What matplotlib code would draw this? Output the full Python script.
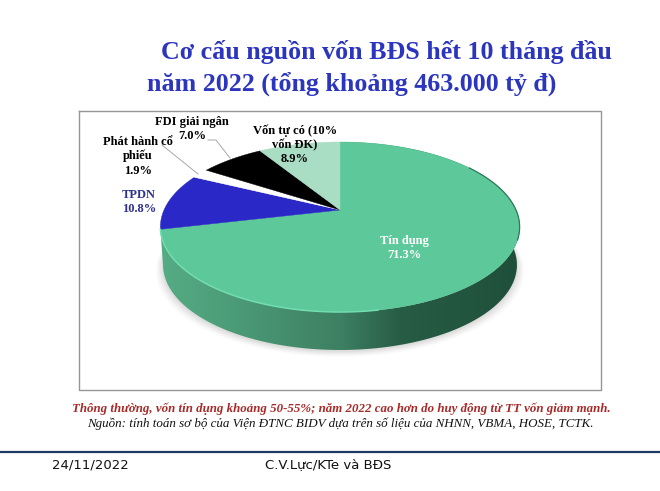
import numpy as np
import matplotlib
matplotlib.use("Agg")
import matplotlib.pyplot as plt
from matplotlib.colors import to_rgb
from matplotlib.patches import Polygon

# -------------------------------------------------
# Data
# -------------------------------------------------
categories = ["Tín dụng", "TPDN", "Phát hành cổ phiếu", "FDI giải ngân", "Vốn tự có (10% vốn ĐK)"]
shares = [71.3, 10.8, 1.9, 7.0, 8.9]
colors = ["#5DC899", "#2A28C6", "#FFFFFF", "#000000", "#A9DDC4"]

title_lines = ["Cơ cấu nguồn vốn BĐS hết 10 tháng đầu", "năm 2022 (tổng khoảng 463.000 tỷ đ)"]
note_red = "Thông thường, vốn tín dụng khoảng 50-55%; năm 2022 cao hơn do huy động từ TT vốn giảm mạnh."
note_src = "Nguồn: tính toán sơ bộ của Viện ĐTNC BIDV dựa trên số liệu của NHNN, VBMA, HOSE, TCTK."
footer_date = "24/11/2022"
footer_author = "C.V.Lực/KTe và BĐS"

# Pie geometry in pixels (perspective view of a disc)
cx, cy = 340, 210
rx, ry = 176, 81.6
persp = 0.2
depth = 38
base_scale = 0.985


def project(theta):
    # theta is clockwise from the top of the disc
    u, v = np.sin(theta), np.cos(theta)
    w = 1 + persp * v
    return cx + rx * u / w, cy - ry * v / w


fig = plt.figure(figsize=(6.6, 4.91), dpi=100)
ax = fig.add_axes([0, 0, 1, 1])
ax.set_xlim(0, 660)
ax.set_ylim(491, 0)
ax.axis("off")

# Frame
ax.plot([79, 601, 601, 79, 79], [111, 111, 390, 390, 111], color="#969696", lw=1.0)

# Soft shadow under the pie
all_t = np.linspace(0, 2 * np.pi, 361)
px, py = project(all_t)
for grow, alpha in zip([7, 5.5, 4, 2.5, 1], [0.03, 0.04, 0.05, 0.06, 0.08]):
    ax.fill(cx + (px - cx) * (base_scale + grow / 180), py + depth + 1 + grow * 0.8,
            color="#777777", alpha=alpha, lw=0)

# Slice angles from the data
edges = np.cumsum([0] + shares) / sum(shares) * 2 * np.pi

# Rim of the front slice: a left-right gradient clipped to the rim outline
rim_t = np.linspace(edges[0], edges[1], 300)
rim_x, rim_y = project(rim_t)
base_x = cx + (rim_x - cx) * base_scale
base_y = rim_y + depth
rim = Polygon(np.c_[np.r_[rim_x, base_x[::-1]], np.r_[rim_y, base_y[::-1]]],
              closed=True, transform=ax.transData, fc="none", ec="none")
ax.add_patch(rim)

stops_x = [160, 230, 340, 400, 520]
stops = [to_rgb(c) for c in ["#55AC85", "#4C9C78", "#3D8062", "#275C45", "#1F4F3A"]]
grad_x = np.arange(155, 526)
grad = np.stack([np.interp(grad_x, stops_x, [s[i] for s in stops]) for i in range(3)], axis=-1)
img = ax.imshow(grad[np.newaxis, :, :], extent=[155, 526, 360, 140], aspect="auto",
                interpolation="bilinear", zorder=2)
img.set_clip_path(rim)
ax.set_xlim(0, 660)
ax.set_ylim(491, 0)

# Top face
for i, c in enumerate(colors):
    t = np.linspace(edges[i], edges[i + 1], 200)
    x, y = project(t)
    ax.fill(np.r_[cx, x], np.r_[cy, y], color=c, lw=0.3, zorder=3)

# Light edge along the front left, dark edge on the right
edge_t = np.linspace(np.radians(170), edges[1], 120)
ex, ey = project(edge_t)
ax.plot(ex, ey, color="#72DDAE", lw=1.1, zorder=4)
edge_t = np.linspace(np.radians(55), np.radians(110), 60)
ex, ey = project(edge_t)
ax.plot(ex, ey, color="#2F7A5A", lw=0.9, zorder=4)

# Leader lines
ax.plot([162, 198], [145, 174], color="#A8A8A8", lw=0.7, zorder=5)
ax.plot([208, 216, 230], [140, 140, 158], color="#A8A8A8", lw=0.7, zorder=5)

# Labels
serif = "Liberation Serif"
lab = dict(family=serif, fontweight="bold", fontsize=9, ha="center", va="center", zorder=6)
ax.text(404, 241, categories[0], color="white", **lab)
ax.text(404, 255, f"{shares[0]}%", color="white", **lab)
ax.text(139, 195, categories[1], color="#2E3192", **lab)
ax.text(139, 209, f"{shares[1]}%", color="#2E3192", **lab)
ax.text(138, 142, "Phát hành cổ", color="black", **lab)
ax.text(138, 156, "phiếu", color="black", **lab)
ax.text(138, 171, f"{shares[2]}%", color="black", **lab)
ax.text(192, 122, categories[3], color="black", **lab)
ax.text(192, 136, f"{shares[3]}%", color="black", **lab)
ax.text(295, 131, "Vốn tự có (10%", color="black", **lab)
ax.text(295, 145, "vốn ĐK)", color="black", **lab)
ax.text(295, 159, f"{shares[4]}%", color="black", **lab)

# Title
ax.text(161, 52, title_lines[0], family=serif, fontweight="bold", fontsize=18.7,
        color="#2B35BE", ha="left", va="center")
ax.text(147, 84, title_lines[1], family=serif, fontweight="bold", fontsize=18.7,
        color="#2B35BE", ha="left", va="center")

# Notes
ax.text(341, 409, note_red, family=serif, fontweight="bold", style="italic", fontsize=9.3,
        color="#A82A28", ha="center", va="center")
ax.text(340, 424, note_src, family=serif, style="italic", fontsize=9.4,
        color="#111111", ha="center", va="center")

# Footer
ax.plot([0, 660], [452, 452], color="#1F3864", lw=1.6)
ax.text(52, 465, footer_date, family="DejaVu Sans", fontsize=9.5, color="#111111",
        ha="left", va="center")
ax.text(265, 465, footer_author, family="DejaVu Sans", fontsize=9.5, color="#111111",
        ha="left", va="center")

fig.savefig("out.png", dpi=100)
